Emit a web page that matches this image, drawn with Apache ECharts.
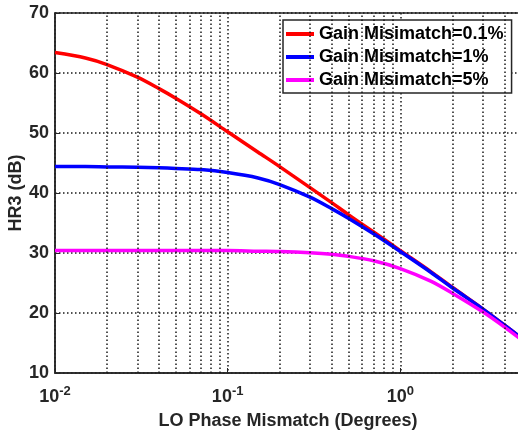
<!DOCTYPE html>
<html>
<head>
<meta charset="utf-8">
<script src="https://cdn.jsdelivr.net/npm/echarts@6/dist/echarts.min.js"></script>
<style>
  html, body { margin: 0; padding: 0; background: #fff; }
  #chart { width: 518px; height: 435px; }
</style>
</head>
<body>
<div id="chart"></div>
<script>
// HR3 vs LO phase mismatch, three gain mismatch cases
var phaseDeg = [0.01, 0.015, 0.02, 0.03, 0.04, 0.05, 0.07, 0.1, 0.15, 0.2, 0.3, 0.4, 0.5, 0.7, 1, 1.5, 2, 3, 4, 5]
var hrGain01 = [63.4, 62.5, 61.4, 59.3, 57.4, 55.8, 53.2, 50.2, 46.8, 44.4, 40.9, 38.4, 36.4, 33.5, 30.4, 26.9, 24.3, 20.7, 18.0, 15.9]
var hrGain1  = [44.4, 44.4, 44.35, 44.3, 44.2, 44.1, 43.9, 43.4, 42.5, 41.4, 39.3, 37.4, 35.8, 33.2, 30.25, 26.8, 24.2, 20.7, 18.0, 15.9]
var hrGain5  = [30.4, 30.4, 30.4, 30.4, 30.4, 30.4, 30.4, 30.4, 30.3, 30.25, 30.05, 29.8, 29.45, 28.7, 27.4, 25.3, 23.3, 20.2, 17.7, 15.6]
var seriesNames = ['Gain Misimatch=0.1%', 'Gain Misimatch=1%', 'Gain Misimatch=5%']
var seriesColors = ['#ff0000', '#0000ff', '#ff00ff']
// minor log grid positions (2..9 of each decade)
var minorGridX = [0.02, 0.03, 0.04, 0.05, 0.06, 0.07, 0.08, 0.09,
                  0.2, 0.3, 0.4, 0.5, 0.6, 0.7, 0.8, 0.9, 2, 3, 4]

var FONT = '"Liberation Sans", Arial, Helvetica, sans-serif'
var INK = '#262626'

function pairs (ys) {
  var out = []
  for (var i = 0; i < phaseDeg.length; i++) {
    out.push([phaseDeg[i], ys[i]])
  }
  return out
}

var myChart = echarts.init(document.getElementById('chart'))

var dotted = { color: '#1a1a1a', width: 1.5, type: [1.5, 2.5] }

var allSeries = [hrGain01, hrGain1, hrGain5].map(function (ys, i) {
  return {
    name: seriesNames[i],
    type: 'line',
    data: pairs(ys),
    symbol: 'none',
    smooth: 0.3,
    z: 3,
    lineStyle: { color: seriesColors[i], width: 3.5 },
    itemStyle: { color: seriesColors[i] }
  }
})

allSeries.push({
  name: 'minorGrid',
  type: 'line',
  data: [],
  z: 1,
  silent: true,
  markLine: {
    silent: true,
    symbol: 'none',
    animation: false,
    label: { show: false },
    lineStyle: dotted,
    data: minorGridX.map(function (v) { return { xAxis: v } })
  }
})

var option = {
  animation: false,
  backgroundColor: '#fff',
  textStyle: { fontFamily: FONT },
  grid: {
    left: 55,
    top: 13,
    width: 466,
    bottom: 62,
    outerBoundsMode: 'none',
    containLabel: false,
    show: true,
    borderColor: INK,
    borderWidth: 1.5,
    backgroundColor: 'transparent'
  },
  legend: {
    data: seriesNames,
    orient: 'vertical',
    left: 283,
    top: 20,
    padding: [5, 8, 4, 3],
    itemGap: 5,
    icon: 'rect',
    itemWidth: 28,
    itemHeight: 4,
    backgroundColor: '#fff',
    borderColor: INK,
    borderWidth: 1.5,
    borderRadius: 0,
    textStyle: { fontFamily: FONT, fontSize: 18, fontWeight: 'bold', color: '#000' }
  },
  xAxis: {
    type: 'log',
    logBase: 10,
    min: 0.01,
    max: 5,
    name: 'LO Phase Mismatch (Degrees)',
    nameLocation: 'middle',
    nameGap: 39,
    nameMoveOverlap: false,
    nameTextStyle: { fontFamily: FONT, fontSize: 18, fontWeight: 'bold', color: INK },
    axisLine: { onZero: false, lineStyle: { color: INK, width: 1.5 } },
    axisTick: { inside: true, length: 5, lineStyle: { color: INK } },
    splitLine: { show: true, lineStyle: dotted },
    axisLabel: {
      margin: 12,
      color: INK,
      formatter: function (v) {
        var e = Math.log10(v)
        if (Math.abs(e - Math.round(e)) > 1e-6) return ''
        return '{b|10}{s|' + Math.round(e) + '}'
      },
      rich: {
        b: { fontFamily: FONT, fontSize: 18, fontWeight: 'bold', color: INK },
        s: { fontFamily: FONT, fontSize: 13, fontWeight: 'bold', color: INK, padding: [0, 0, 11, 0] }
      }
    }
  },
  yAxis: {
    type: 'value',
    min: 10,
    max: 70,
    interval: 10,
    name: 'HR3 (dB)',
    nameLocation: 'middle',
    nameGap: 30,
    nameMoveOverlap: false,
    nameTextStyle: { fontFamily: FONT, fontSize: 18, fontWeight: 'bold', color: INK },
    axisLine: { show: true, lineStyle: { color: INK, width: 1.5 } },
    axisTick: { show: true, inside: true, length: 5, lineStyle: { color: INK } },
    splitLine: { show: true, lineStyle: dotted },
    axisLabel: { margin: 6, fontFamily: FONT, fontSize: 18, fontWeight: 'bold', color: INK }
  },
  series: allSeries
}

myChart.setOption(option)
</script>
</body>
</html>
